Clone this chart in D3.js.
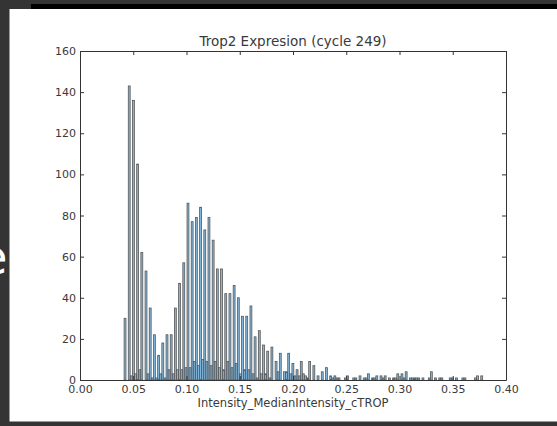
<!DOCTYPE html>
<html>
<head>
<meta charset="utf-8">
<script src="https://d3js.org/d3.v7.min.js"></script>
<style>
  html, body { margin: 0; padding: 0; background: #333333; }
  svg { display: block; }
  text { font-family: "DejaVu Sans", sans-serif; }
</style>
</head>
<body>
<svg></svg>
<script>
///////////////////////////////////////////
// Data
var binStart = 0.0412,   // left edge of first bin
    binWidth = 0.00394;  // width of one bin

// main population, counts per bin
var countsMain = [30, 143, 136, 105, 62, 53, 35, 22, 12, 18,
                  22, 22, 35, 47, 57, 86, 77, 79, 84, 73,
                  79, 68, 54, 54, 42, 42, 46, 40, 31, 31,
                  36, 21, 24, 17, 14, 16, 9, 13, 4, 13,
                  8, 5, 9, 2, 9, 7, 2, 4, 6, 2,
                  2, 1, 0, 2, 0, 1, 2, 1, 3, 1,
                  2, 2, 2, 1, 1, 3, 3, 4, 1, 1,
                  1, 1, 0, 4, 1, 1, 0, 0, 1, 1,
                  0, 1, 0, 0, 2, 2];

// second (small) population, counts per bin
var countsSmall = [0, 2, 3, 5, 0, 3, 1, 1, 3, 1,
                   5, 3, 5, 5, 6, 6, 9, 7, 10, 9,
                   7, 9, 6, 5, 9, 6, 8, 3, 5, 5,
                   3, 1, 3, 3, 1, 0, 4, 0, 4, 3,
                   2, 2, 3, 1, 0, 0, 0, 0, 0, 1,
                   1, 0, 1, 0, 1, 0, 0, 1, 0, 1,
                   0, 1, 0, 0, 1, 0, 1, 0, 1, 1,
                   0, 0, 1, 0, 0, 1, 0, 1, 0, 0,
                   1, 0, 0, 1, 0, 0];

var xTicks = [0, 0.05, 0.10, 0.15, 0.20, 0.25, 0.30, 0.35, 0.40];
var yTicks = [0, 20, 40, 60, 80, 100, 120, 140, 160];

var titleText = "Trop2 Expresion (cycle 249)",
    xLabelText = "Intensity_MedianIntensity_cTROP";

///////////////////////////////////////////
// Layout Setting
var svgWidth = 557,
    svgHeight = 426;
var margin = {top: 51, right: 51, bottom: 46, left: 80},
    width = svgWidth - margin.left - margin.right,
    height = svgHeight - margin.top - margin.bottom;

var svg = d3.select("svg").attr("width", svgWidth).attr("height", svgHeight);

// background: dark screen, black strip on top, white figure
svg.append("rect").attr("width", svgWidth).attr("height", svgHeight).attr("fill", "#343434");
svg.append("rect").attr("x", 31).attr("y", 4).attr("width", svgWidth - 31).attr("height", 5).attr("fill", "#000");
svg.append("text").attr("x", -22).attr("y", 274)
   .style("font-size", "48px").attr("fill", "#fff").text("e");
svg.append("rect").attr("x", 9.5).attr("y", 9).attr("width", svgWidth - 9.5).attr("height", 412.5).attr("fill", "#fff");

var g = svg.append("g").attr("transform", "translate(" + [margin.left, margin.top] + ")");

var x = d3.scaleLinear().domain([0, 0.4]).range([0, width]);
var y = d3.scaleLinear().domain([0, 160]).range([height, 0]);

///////////////////////////////////////////
// Bars
function drawSeries(counts, offset, cls) {
  var bw = x(binWidth * 0.45) - x(0);
  g.append("g").classed(cls, true)
    .selectAll("rect")
    .data(counts.map(function(c, i){ return {i: i, c: c}; }).filter(function(d){ return d.c > 0; }))
    .enter().append("rect")
    .attr("x", function(d){ return x(binStart + d.i * binWidth + offset * binWidth); })
    .attr("width", bw)
    .attr("y", function(d){ return y(d.c); })
    .attr("height", function(d){ return y(0) - y(d.c); })
    .attr("fill", "#62a5d6")
    .attr("fill-opacity", 0.8)
    .attr("stroke", "#585858")
    .attr("stroke-width", 0.8);
}
drawSeries(countsMain, 0.05, "main");
drawSeries(countsSmall, 0.55, "small");

///////////////////////////////////////////
// Axes (ticks pointing inward on all four sides)
var fmt = d3.format(".2f");
var axStyle = function(sel) {
  sel.select(".domain").attr("stroke", "#333").attr("stroke-width", 1);
  sel.selectAll(".tick line").attr("stroke", "#333");
  sel.selectAll("text").style("font-family", "DejaVu Sans").style("font-size", "11px").attr("fill", "#3a3a3a");
};

g.append("g").attr("transform", "translate(0," + height + ")")
  .call(d3.axisBottom(x).tickValues(xTicks).tickFormat(fmt).tickSize(-4).tickSizeOuter(0).tickPadding(5))
  .call(axStyle);
g.append("g")
  .call(d3.axisTop(x).tickValues(xTicks).tickFormat("").tickSize(-4).tickSizeOuter(0))
  .call(axStyle);
g.append("g")
  .call(d3.axisLeft(y).tickValues(yTicks).tickSize(-4).tickSizeOuter(0).tickPadding(4))
  .call(axStyle);
g.append("g").attr("transform", "translate(" + width + ",0)")
  .call(d3.axisRight(y).tickValues(yTicks).tickFormat("").tickSize(-4).tickSizeOuter(0))
  .call(axStyle);

///////////////////////////////////////////
// Title and label
g.append("text").attr("x", width / 2).attr("y", -5.5)
  .attr("text-anchor", "middle").style("font-size", "13.5px").attr("fill", "#3a3a3a")
  .text(titleText);
g.append("text").attr("x", width / 2).attr("y", height + 26.5)
  .attr("text-anchor", "middle").style("font-size", "11.5px").attr("fill", "#3a3a3a")
  .text(xLabelText);
</script>
</body>
</html>
